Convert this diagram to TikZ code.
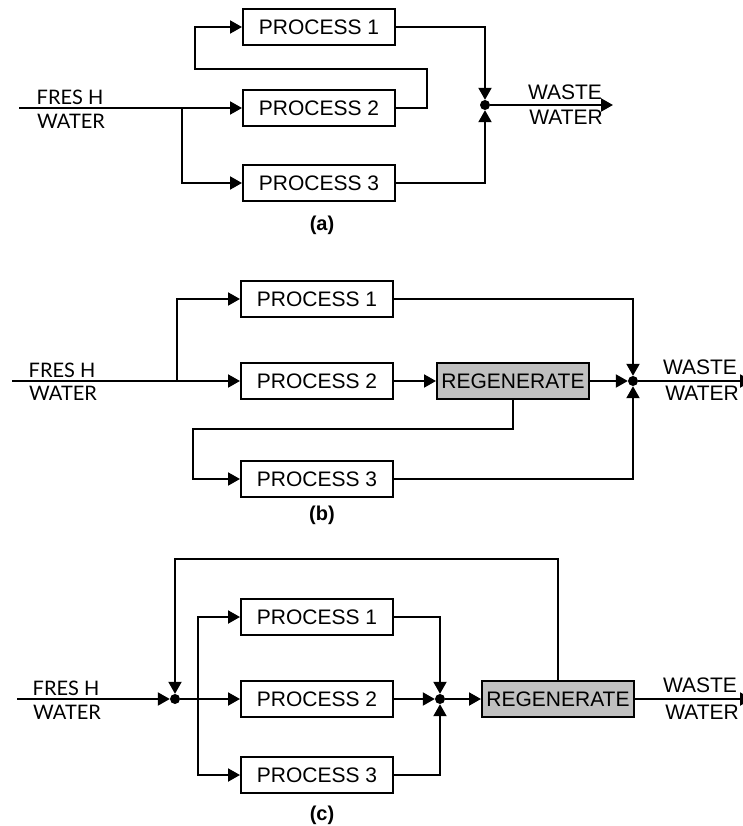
\documentclass[tikz,border=0pt]{standalone}
\usepackage{fontspec}
\setmainfont{Liberation Sans}
\newfontfamily\freshfont{Lato}
\definecolor{regengray}{RGB}{192,192,192}
\usetikzlibrary{arrows.meta,positioning}
\tikzset{
  proc/.style={rectangle, draw, line width=2pt, minimum width=152pt,
               minimum height=36pt, inner sep=0pt, font=\fontsize{21}{24}\selectfont},
  regen/.style={proc, fill=regengray},
  pipe/.style={line width=2pt},
  flow/.style={pipe, -{Triangle[length=12pt,width=13pt]}},
  jn/.style={circle, fill=black, inner sep=0pt, minimum size=10pt},
  streamtxt/.style={font=\fontsize{21}{24}\selectfont, inner sep=0pt, anchor=base},
  freshtxt/.style={font=\freshfont\fontsize{20}{23}\selectfont, inner sep=0pt, anchor=base},
  captxt/.style={font=\bfseries\fontsize{20}{23}\selectfont},
}

\begin{document}
\begin{tikzpicture}[x=1pt,y=-1pt]
  \useasboundingbox (0,0) rectangle (743,826);
  % (a) parallel, reuse of process 2 water in process 1
  \node[proc] (p1a) at (319,27)  {PROCESS 1};
  \node[proc] (p2a) at (319,108) {PROCESS 2};
  \node[proc] (p3a) at (319,183) {PROCESS 3};
  \node[jn] (ja) at (485,105) {};
  \coordinate (ina) at (19,108);
  \coordinate (bra) at (182,108);
  \coordinate (outa) at (613,105);
  \node[freshtxt] (fresha) at (70,105) {FRES H};
  \node[freshtxt] (watera) at (71,129) {WATER};
  \node[streamtxt] (wastea) at (565,99.5) {WASTE};
  \node[streamtxt] (wwatera) at (566,124.5) {WATER};
  \draw[flow] (ina) -- (p2a.west);
  \draw[flow] (bra) |- (p3a.west);
  \draw[flow] (p2a.east) -- (427,108) -- (427,69) -- (195,69) |- (p1a.west);
  \draw[flow] (p1a.east) -| (ja);
  \draw[flow] (p3a.east) -| (ja);
  \draw[flow] (ja) -- (outa);
  \node[captxt] (capa) at (322,225) {(a)};
  % (b) regeneration reuse
  \node[proc] (p1b) at (317,299) {PROCESS 1};
  \node[proc] (p2b) at (317,381) {PROCESS 2};
  \node[proc] (p3b) at (317,479) {PROCESS 3};
  \node[regen] (regb) at (513,381) {REGENERATE};
  \node[jn] (jb) at (633,381) {};
  \coordinate (inb) at (12,381);
  \coordinate (brb) at (177,381);
  \coordinate (outb) at (752,381);
  \node[freshtxt] (freshb) at (62,377) {FRES H};
  \node[freshtxt] (waterb) at (63,400) {WATER};
  \node[streamtxt] (wasteb) at (700,374.5) {WASTE};
  \node[streamtxt] (wwaterb) at (702,400.5) {WATER};
  \draw[flow] (inb) -- (p2b.west);
  \draw[flow] (brb) |- (p1b.west);
  \draw[flow] (p2b.east) -- (regb.west);
  \draw[flow] (regb.east) -- (jb);
  \draw[flow] (regb.south) -- (513,429) -- (193,429) |- (p3b.west);
  \draw[flow] (p1b.east) -| (jb);
  \draw[flow] (p3b.east) -| (jb);
  \draw[flow] (jb) -- (outb);
  \node[captxt] (capb) at (322,515) {(b)};
  % (c) regeneration recycling
  \node[proc] (p1c) at (317,617) {PROCESS 1};
  \node[proc] (p2c) at (317,699) {PROCESS 2};
  \node[proc] (p3c) at (317,775) {PROCESS 3};
  \node[regen] (regc) at (558,699) {REGENERATE};
  \node[jn] (j1c) at (175,699) {};
  \node[jn] (j2c) at (440,699) {};
  \coordinate (inc) at (17,699);
  \coordinate (brc) at (198,699);
  \coordinate (topc) at (175,559);
  \coordinate (outc) at (752,699);
  \node[freshtxt] (freshc) at (66,695) {FRES H};
  \node[freshtxt] (waterc) at (67,719) {WATER};
  \node[streamtxt] (wastec) at (700,692.5) {WASTE};
  \node[streamtxt] (wwaterc) at (702,719.5) {WATER};
  \draw[flow] (inc) -- (j1c);
  \draw[flow] (j1c) -- (p2c.west);
  \draw[flow] (brc) |- (p1c.west);
  \draw[flow] (brc) |- (p3c.west);
  \draw[flow] (p1c.east) -| (j2c);
  \draw[flow] (p3c.east) -| (j2c);
  \draw[flow] (p2c.east) -- (j2c);
  \draw[flow] (j2c) -- (regc.west);
  \draw[flow] (regc.north) |- (topc) -- (j1c);
  \draw[flow] (regc.east) -- (outc);
  \node[captxt] (capc) at (322,815) {(c)};
\end{tikzpicture}
\end{document}
